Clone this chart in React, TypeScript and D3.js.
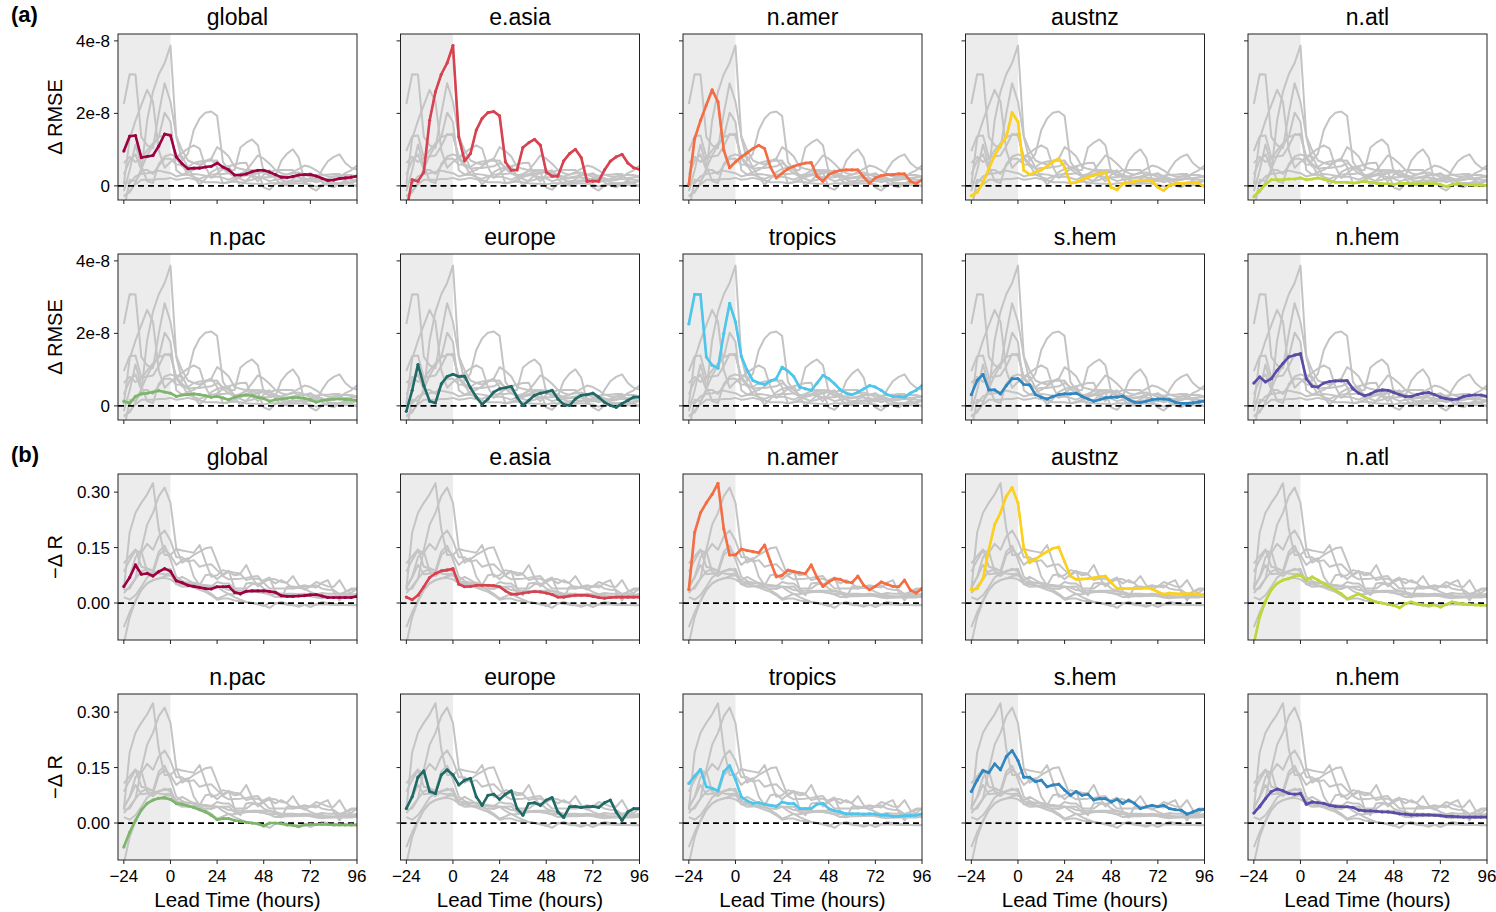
import React from 'react';
import * as d3 from 'd3';

// Lead times (hours), 3-hourly from -24 to 96
const leadHours = [
  -24, -21, -18, -15, -12, -9, -6, -3, 0, 3, 6, 9, 12, 15, 18, 21, 24, 27, 30, 33, 36,
  39, 42, 45, 48, 51, 54, 57, 60, 63, 66, 69, 72, 75, 78, 81, 84, 87, 90, 93, 96,
];

const regions = ['global', 'e.asia', 'n.amer', 'austnz', 'n.atl', 'n.pac', 'europe', 'tropics', 's.hem', 'n.hem'];
const regionColors = ['#9e0142', '#d8414f', '#f56d43', '#fdd11a', '#bcd83a', '#7db56b', '#1f6a66', '#4cc6ec', '#2f86c0', '#5b4ba6'];

// Δ RMSE, in units of 1e-8
const rmseGlobal = [0.96, 1.37, 1.39, 0.78, 0.81, 0.84, 1.1, 1.43, 1.39, 0.8, 0.61, 0.47, 0.49, 0.49, 0.52, 0.54, 0.63, 0.52, 0.44, 0.3, 0.3, 0.33, 0.39, 0.43, 0.43, 0.38, 0.31, 0.24, 0.23, 0.26, 0.3, 0.31, 0.31, 0.27, 0.21, 0.15, 0.16, 0.2, 0.22, 0.24, 0.27];
const rmseEAsia = [-0.7, 0.17, 0.13, 0.38, 1.81, 2.6, 3.08, 3.39, 3.87, 1.35, 0.69, 0.89, 1.54, 1.86, 2.02, 2.05, 1.93, 0.66, 0.43, 0.44, 1.06, 1.19, 1.28, 1.12, 0.38, 0.27, 0.27, 0.69, 0.89, 1.01, 0.78, 0.13, 0.13, 0.13, 0.44, 0.68, 0.8, 0.87, 0.63, 0.5, 0.45];
const rmseNAmer = [0.04, 1.3, 1.8, 2.23, 2.65, 2.32, 0.98, 0.5, 0.66, 0.8, 0.91, 1.03, 1.12, 1.03, 0.52, 0.22, 0.35, 0.47, 0.54, 0.59, 0.63, 0.64, 0.26, 0.13, 0.31, 0.38, 0.43, 0.44, 0.44, 0.44, 0.24, 0.07, 0.22, 0.28, 0.31, 0.31, 0.33, 0.33, 0.13, 0.06, 0.17];
const rmseAustnz = [-0.27, -0.18, 0.1, 0.47, 0.84, 1.12, 1.35, 2.02, 1.77, 0.43, 0.31, 0.38, 0.44, 0.54, 0.66, 0.75, 0.52, 0.07, 0.1, 0.17, 0.24, 0.29, 0.33, 0.38, -0.04, -0.11, 0.06, 0.09, 0.13, 0.15, 0.15, 0.13, -0.04, -0.13, 0.01, 0.06, 0.07, 0.08, 0.09, 0.07, -0.02];
const rmseNAtl = [-0.3, -0.13, 0.04, 0.17, 0.17, 0.17, 0.19, 0.19, 0.22, 0.17, 0.19, 0.22, 0.18, 0.15, 0.1, 0.1, 0.1, 0.07, 0.1, 0.12, 0.1, 0.07, 0.06, 0.06, 0.04, 0.07, 0.07, 0.06, 0.06, 0.06, 0.07, 0.06, 0.04, -0.02, 0.04, 0.06, 0.04, 0.03, 0.02, 0.02, 0.01];
const rmseNPac = [0.13, 0.07, 0.26, 0.33, 0.35, 0.38, 0.42, 0.38, 0.35, 0.26, 0.3, 0.31, 0.33, 0.31, 0.28, 0.24, 0.26, 0.22, 0.17, 0.24, 0.28, 0.3, 0.28, 0.24, 0.2, 0.13, 0.17, 0.19, 0.21, 0.23, 0.23, 0.21, 0.17, 0.1, 0.15, 0.17, 0.19, 0.19, 0.18, 0.17, 0.15];
const rmseEurope = [-0.15, 0.43, 1.14, 0.56, 0.13, 0.08, 0.61, 0.81, 0.87, 0.81, 0.82, 0.5, 0.24, 0.04, 0.19, 0.38, 0.47, 0.5, 0.54, 0.24, 0.01, 0.15, 0.29, 0.35, 0.38, 0.43, 0.19, 0.04, 0.01, 0.19, 0.29, 0.31, 0.35, 0.24, 0.1, 0.01, -0.04, 0.06, 0.15, 0.24, 0.24];
const rmseTropics = [2.26, 3.08, 3.07, 1.35, 1.12, 1.04, 2.0, 2.83, 2.32, 1.37, 0.98, 0.7, 0.63, 0.59, 0.69, 0.75, 1.07, 0.96, 0.81, 0.52, 0.47, 0.43, 0.63, 0.84, 0.75, 0.61, 0.44, 0.35, 0.31, 0.38, 0.47, 0.56, 0.52, 0.43, 0.31, 0.26, 0.26, 0.24, 0.35, 0.43, 0.56];
const rmseSHem = [0.31, 0.7, 0.87, 0.44, 0.44, 0.33, 0.56, 0.75, 0.75, 0.59, 0.58, 0.31, 0.24, 0.19, 0.26, 0.31, 0.33, 0.33, 0.35, 0.26, 0.19, 0.13, 0.17, 0.22, 0.24, 0.24, 0.27, 0.17, 0.1, 0.09, 0.13, 0.17, 0.19, 0.19, 0.17, 0.1, 0.07, 0.07, 0.08, 0.11, 0.13];
const rmseNHem = [0.63, 0.8, 0.66, 0.75, 0.98, 1.17, 1.35, 1.4, 1.44, 0.75, 0.54, 0.52, 0.63, 0.67, 0.69, 0.69, 0.7, 0.47, 0.35, 0.28, 0.33, 0.41, 0.44, 0.43, 0.37, 0.31, 0.26, 0.26, 0.31, 0.35, 0.37, 0.31, 0.24, 0.2, 0.17, 0.19, 0.26, 0.29, 0.3, 0.3, 0.26];

// −Δ R
const corrGlobal = [0.045, 0.069, 0.103, 0.078, 0.08, 0.073, 0.085, 0.093, 0.086, 0.06, 0.055, 0.048, 0.045, 0.042, 0.039, 0.038, 0.044, 0.044, 0.045, 0.029, 0.025, 0.032, 0.033, 0.033, 0.033, 0.031, 0.029, 0.02, 0.018, 0.018, 0.019, 0.02, 0.022, 0.023, 0.019, 0.015, 0.015, 0.015, 0.015, 0.015, 0.018];
const corrEAsia = [0.016, 0.009, 0.021, 0.044, 0.069, 0.08, 0.087, 0.089, 0.093, 0.051, 0.044, 0.045, 0.048, 0.048, 0.048, 0.047, 0.044, 0.033, 0.024, 0.024, 0.027, 0.029, 0.031, 0.03, 0.027, 0.023, 0.016, 0.016, 0.019, 0.021, 0.021, 0.021, 0.018, 0.015, 0.013, 0.015, 0.016, 0.016, 0.016, 0.016, 0.016];
const corrNAmer = [0.036, 0.191, 0.244, 0.271, 0.294, 0.324, 0.2, 0.13, 0.13, 0.146, 0.142, 0.139, 0.136, 0.157, 0.112, 0.071, 0.075, 0.089, 0.085, 0.082, 0.08, 0.103, 0.069, 0.045, 0.057, 0.066, 0.064, 0.057, 0.055, 0.073, 0.048, 0.036, 0.045, 0.057, 0.051, 0.045, 0.044, 0.062, 0.035, 0.027, 0.039];
const corrAustnz = [0.036, 0.039, 0.066, 0.144, 0.212, 0.244, 0.289, 0.312, 0.271, 0.148, 0.109, 0.118, 0.13, 0.139, 0.148, 0.151, 0.112, 0.073, 0.064, 0.065, 0.066, 0.068, 0.071, 0.073, 0.055, 0.039, 0.039, 0.039, 0.039, 0.039, 0.041, 0.038, 0.03, 0.024, 0.027, 0.025, 0.025, 0.025, 0.025, 0.024, 0.02];
const corrNAtl = [-0.11, -0.038, 0.005, 0.036, 0.053, 0.062, 0.066, 0.073, 0.075, 0.062, 0.071, 0.062, 0.053, 0.044, 0.035, 0.025, 0.012, 0.018, 0.025, 0.016, 0.009, 0.003, 0.0, -0.004, -0.006, -0.013, -0.002, 0.003, -0.002, -0.005, -0.006, -0.005, -0.011, -0.004, 0.003, 0.0, -0.002, -0.004, -0.005, -0.006, -0.006];
const corrNPac = [-0.065, -0.025, 0.007, 0.035, 0.053, 0.062, 0.067, 0.068, 0.064, 0.053, 0.051, 0.046, 0.042, 0.036, 0.03, 0.021, 0.009, 0.012, 0.012, 0.007, 0.005, 0.002, 0.0, -0.002, -0.008, 0.0, 0.0, -0.002, -0.005, -0.006, -0.01, -0.005, -0.004, -0.004, -0.003, -0.004, -0.005, -0.005, -0.005, -0.005, -0.005];
const corrEurope = [0.039, 0.071, 0.124, 0.141, 0.085, 0.08, 0.13, 0.144, 0.13, 0.103, 0.116, 0.121, 0.071, 0.048, 0.075, 0.078, 0.064, 0.078, 0.087, 0.039, 0.021, 0.053, 0.055, 0.048, 0.062, 0.069, 0.03, 0.015, 0.044, 0.045, 0.042, 0.044, 0.045, 0.042, 0.055, 0.062, 0.03, 0.007, 0.03, 0.039, 0.039];
const corrTropics = [0.107, 0.127, 0.145, 0.098, 0.094, 0.087, 0.139, 0.155, 0.118, 0.071, 0.06, 0.053, 0.055, 0.051, 0.048, 0.045, 0.057, 0.053, 0.053, 0.039, 0.039, 0.039, 0.051, 0.053, 0.039, 0.033, 0.03, 0.025, 0.025, 0.025, 0.024, 0.025, 0.024, 0.021, 0.022, 0.018, 0.018, 0.02, 0.02, 0.021, 0.025];
const corrSHem = [0.085, 0.116, 0.142, 0.136, 0.16, 0.144, 0.18, 0.196, 0.169, 0.124, 0.124, 0.112, 0.116, 0.098, 0.103, 0.105, 0.089, 0.075, 0.085, 0.075, 0.078, 0.062, 0.066, 0.066, 0.057, 0.064, 0.053, 0.062, 0.053, 0.039, 0.044, 0.048, 0.044, 0.048, 0.039, 0.036, 0.035, 0.024, 0.03, 0.036, 0.037];
const corrNHem = [0.027, 0.045, 0.066, 0.085, 0.092, 0.087, 0.08, 0.078, 0.08, 0.051, 0.057, 0.055, 0.053, 0.048, 0.045, 0.044, 0.044, 0.042, 0.035, 0.033, 0.033, 0.032, 0.03, 0.03, 0.028, 0.025, 0.024, 0.022, 0.022, 0.022, 0.022, 0.021, 0.02, 0.018, 0.018, 0.017, 0.016, 0.016, 0.016, 0.016, 0.016];

const rmseSeries = [rmseGlobal, rmseEAsia, rmseNAmer, rmseAustnz, rmseNAtl, rmseNPac, rmseEurope, rmseTropics, rmseSHem, rmseNHem];
const corrSeries = [corrGlobal, corrEAsia, corrNAmer, corrAustnz, corrNAtl, corrNPac, corrEurope, corrTropics, corrSHem, corrNHem];

const xTicks = [-24, 0, 24, 48, 72, 96];
const rmseTicks = [0, 2, 4];
const rmseTickLabels = ['0', '2e-8', '4e-8'];
const corrTicks = [0, 0.15, 0.3];
const corrTickLabels = ['0.00', '0.15', '0.30'];

const FONT = '"Liberation Sans", Arial, Helvetica, sans-serif';
const colLeft = [118, 400.5, 683, 965.5, 1248];
const rowTop = [34, 254, 474, 694];
const panelW = 239;
const panelH = 166;

type Block = {
  label: string;
  series: number[][];
  yDomain: [number, number];
  ticks: number[];
  tickLabels: string[];
  yTitle: string;
  firstRow: number;
};

const blocks: Block[] = [
  { label: '(a)', series: rmseSeries, yDomain: [-0.39, 4.19], ticks: rmseTicks, tickLabels: rmseTickLabels, yTitle: 'Δ RMSE', firstRow: 0 },
  { label: '(b)', series: corrSeries, yDomain: [-0.1, 0.349], ticks: corrTicks, tickLabels: corrTickLabels, yTitle: '−Δ R', firstRow: 2 },
];

function Panel({ block, idx, row, col }: { block: Block; idx: number; row: number; col: number }) {
  const x0 = colLeft[col];
  const y0 = rowTop[row];
  const x = d3.scaleLinear().domain([-27, 96]).range([x0, x0 + panelW]);
  const y = d3.scaleLinear().domain(block.yDomain).range([y0 + panelH, y0]);
  const line = d3
    .line<number>()
    .x((_, i) => x(leadHours[i]))
    .y((d) => y(d));
  const clipId = `clip-${row}-${col}`;
  const color = regionColors[idx];
  const isBottom = row === 3;
  const fmt = (v: number) => (v < 0 ? '\u2212' + Math.abs(v) : String(v));
  return (
    <g>
      <defs>
        <clipPath id={clipId}>
          <rect x={x0} y={y0} width={panelW} height={panelH} />
        </clipPath>
      </defs>
      <text x={x0 + panelW / 2} y={y0 - 9} textAnchor="middle" fontSize={23} fontFamily={FONT} fill="#000">
        {regions[idx]}
      </text>
      <g clipPath={`url(#${clipId})`}>
        <rect x={x(-27)} y={y0} width={x(0) - x(-27)} height={panelH} fill="#ececec" />
        {block.series.map((s, j) => (
          <path key={j} d={line(s) || ''} fill="none" stroke="#c4c4c4" strokeWidth={2} strokeLinejoin="round" />
        ))}
        <line x1={x0} x2={x0 + panelW} y1={y(0)} y2={y(0)} stroke="#000" strokeWidth={1.8} strokeDasharray="6,4" />
        <path d={line(block.series[idx]) || ''} fill="none" stroke={color} strokeWidth={2.6} strokeLinejoin="round" />
        {block.series[idx].map((v, i) => (
          <circle key={i} cx={x(leadHours[i])} cy={y(v)} r={1.6} fill={color} />
        ))}
      </g>
      <rect x={x0} y={y0} width={panelW} height={panelH} fill="none" stroke="#222" strokeWidth={1} />
      {xTicks.map((t) => (
        <g key={t}>
          <line x1={x(t)} x2={x(t)} y1={y0 + panelH} y2={y0 + panelH + 4} stroke="#222" strokeWidth={1} />
          {isBottom && (
            <text x={x(t)} y={y0 + panelH + 22} textAnchor="middle" fontSize={17} fontFamily={FONT} fill="#000">
              {fmt(t)}
            </text>
          )}
        </g>
      ))}
      {block.ticks.map((t, i) => (
        <g key={t}>
          <line x1={x0 - 4} x2={x0} y1={y(t)} y2={y(t)} stroke="#222" strokeWidth={1} />
          {col === 0 && (
            <text x={x0 - 8} y={y(t) + 6} textAnchor="end" fontSize={17} fontFamily={FONT} fill="#000">
              {block.tickLabels[i]}
            </text>
          )}
        </g>
      ))}
      {col === 0 && (
        <text
          transform={`translate(${x0 - 56},${y0 + panelH / 2}) rotate(-90)`}
          textAnchor="middle"
          fontSize={20}
          fontFamily={FONT}
          fill="#000"
        >
          {block.yTitle}
        </text>
      )}
      {isBottom && (
        <text x={x0 + panelW / 2} y={y0 + panelH + 47} textAnchor="middle" fontSize={20.5} fontFamily={FONT} fill="#000">
          Lead Time (hours)
        </text>
      )}
    </g>
  );
}

export default function App() {
  return (
    <svg
      width={1496}
      height={912}
      viewBox="0 0 1496 912"
      style={{ position: 'absolute', left: 0, top: 0, background: '#fff' }}
    >
      <rect width={1496} height={912} fill="#fff" />
      {blocks.map((b) => (
        <g key={b.label}>
          <text x={11} y={rowTop[b.firstRow] - 12} fontSize={22} fontWeight="bold" fontFamily={FONT} fill="#000">
            {b.label}
          </text>
          {regions.map((_, idx) => {
            const row = b.firstRow + Math.floor(idx / 5);
            const col = idx % 5;
            return <Panel key={idx} block={b} idx={idx} row={row} col={col} />;
          })}
        </g>
      ))}
    </svg>
  );
}
